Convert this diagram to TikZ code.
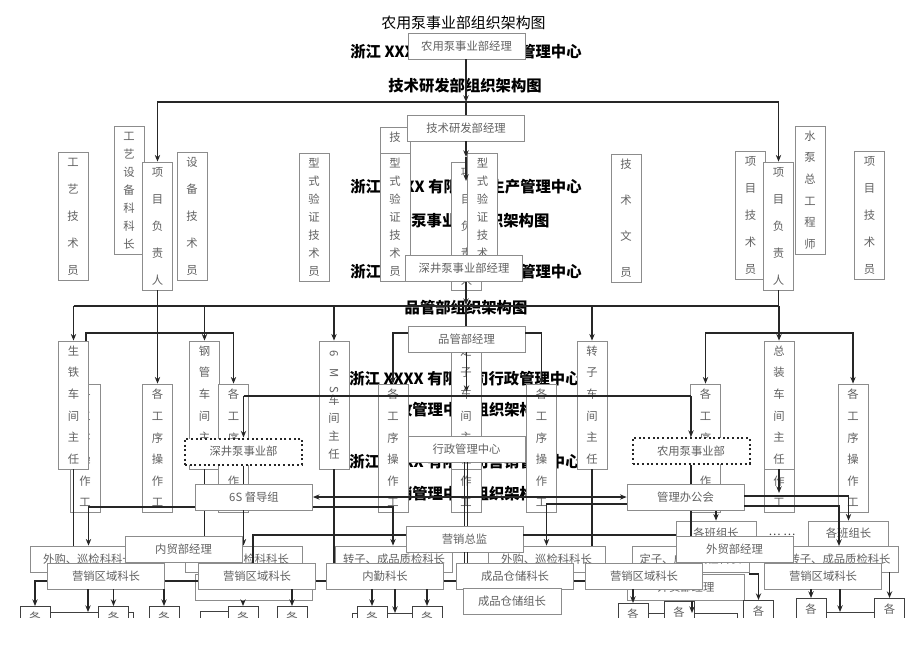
\documentclass[tikz,border=0pt]{standalone}
\usepackage{fontspec}
\usepackage{graphicx}
\setmainfont{Noto Sans CJK SC}
\usetikzlibrary{arrows.meta}
\begin{document}
\begin{tikzpicture}[x=0.75pt,y=-0.75pt,
  box/.style={draw=black!45,line width=0.6pt,fill=white,text=black!62,inner sep=0pt},
  hb/.style={box,minimum width=87.75pt,minimum height=19.5pt,font=\fontsize{8.5}{10}\selectfont},
  vb/.style={box,minimum width=22.5pt,minimum height=96pt,align=center},
  vfour/.style={vb,font=\fontsize{8.5}{27}\selectfont},
  vfive/.style={vb,font=\fontsize{8.5}{20.25}\selectfont},
  vsix/.style={vb,font=\fontsize{8.5}{16.2}\selectfont},
  vseven/.style={vb,font=\fontsize{8.5}{13.5}\selectfont},
  dotb/.style={draw=black!85,line width=1.5pt,dotted,fill=white,text=black!62,minimum width=87.75pt,minimum height=19.5pt,inner sep=0pt,font=\fontsize{8.5}{10}\selectfont},
  ttl/.style={font=\fontsize{11.5}{13}\selectfont\bfseries,text=black,inner sep=0pt},
  ttlr/.style={font=\fontsize{11.2}{13}\selectfont,text=black,inner sep=0pt},
  sbox/.style={draw=black!75,line width=0.6pt,fill=white,text=black!62,minimum width=22.5pt,minimum height=0pt,inner xsep=0pt,inner ysep=4pt,anchor=north,font=\fontsize{8.5}{10}\selectfont},
  wbox/.style={draw=black!75,line width=0.6pt,fill=white,anchor=north west,minimum height=22pt,inner sep=0pt},
  ln/.style={draw=black!85,line width=0.85pt},
  ar/.style={ln,-{Stealth[length=5pt,width=4pt]}},
]
\fill[white] (0,0) rectangle (920,651);
\useasboundingbox (0,0) rectangle (920,651);
\begin{scope}
\clip (0,0) rectangle (920,617);
% ---------- titles ----------
\node[ttlr] (t0) at (463.5,23) {农用泵事业部组织架构图};
\node[ttl] (t1) at (466,52) {浙江 XXXX 有限公司生产管理中心};
\node[ttl] (t2) at (465,86) {技术研发部组织架构图};
\node[ttl] (t3) at (466,187) {浙江 XXXX 有限公司生产管理中心};
\node[ttl] (t4) at (465,221) {深井泵事业部组织架构图};
\node[ttl] (t5) at (466,272) {浙江 XXXX 有限公司生产管理中心};
\node[ttl] (t6) at (466,308) {品管部组织架构图};
\node[ttl] (t7) at (465,379) {浙江 XXXX 有限公司行政管理中心};
\node[ttl] (t8) at (466,410) {行政管理中心组织架构图};
\node[ttl] (t9) at (465,462) {浙江 XXXX 有限公司营销管理中心};
\node[ttl] (t10) at (466,494) {营销管理中心组织架构图};

% ---------- technical department ----------
\node[vfive] (gyjs) at (73,216.5) {工\\艺\\技\\术\\员};
\node[vseven] (gysb) at (129,190.5) {工\\艺\\设\\备\\科\\科\\长};
\node[vfive] (xmL) at (157.5,226) {项\\目\\负\\责\\人};
\node[vfive] (sbjs) at (192,216.5) {设\\备\\技\\术\\员};
\node[vseven] (xsL) at (314,217) {型\\式\\验\\证\\技\\术\\员};
\node[vfour] (jswC) at (395,191) {技\\术\\文\\员};
\node[vseven] (xsC) at (395,217) {型\\式\\验\\证\\技\\术\\员};
\node[vfive] (xmC) at (466.5,226) {项\\目\\负\\责\\人};
\node[vseven] (xsCc) at (482.5,217) {型\\式\\验\\证\\技\\术\\员};
\node[vfour] (jsw) at (626,218) {技\\术\\文\\员};
\node[vfive] (xjRa) at (750.5,215.5) {项\\目\\技\\术\\员};
\node[vfive] (xmR) at (778.5,226) {项\\目\\负\\责\\人};
\node[vsix] (sbzg) at (810,190) {水\\泵\\总\\工\\程\\师};
\node[vfive] (xjRb) at (869.5,215.5) {项\\目\\技\\术\\员};
\node[hb] (nyj) at (466.5,46) {农用泵事业部经理};
\node[hb] (jsy) at (466,128) {技术研发部经理};

\coordinate (jA) at (466,102);
\coordinate (jB) at (466,157);
\coordinate (jBb) at (466,181);
\draw[ar] (nyj.south -| jA) -- (jA);
\draw[ln] (jA) -- (jsy.north -| jA);
\draw[ar] (jA) -| (xmL.north);
\draw[ar] (jA) -| (xmR.north);
\draw[ar] (jsy.south -| jA) -- (jB);
\draw[ar] (jB) -- (jBb);

% ---------- production (deep-well pump) ----------
\node[hb] (sjj) at (464,268.5) {深井泵事业部经理};
\node[vsix] (gxLo) at (85,448) {各\\工\\序\\操\\作\\工};
\node[vsix] (st) at (73.5,405) {生\\铁\\车\\间\\主\\任};
\node[vsix] (gxLa) at (157.5,448) {各\\工\\序\\操\\作\\工};
\node[vsix] (gg) at (204.5,405) {钢\\管\\车\\间\\主\\任};
\node[vsix] (gxLb) at (233.5,448) {各\\工\\序\\操\\作\\工};
\node[vseven] (ms) at (334,405) {\rotatebox{-90}{6}\\\rotatebox{-90}{M}\\\rotatebox{-90}{S}\\车\\间\\主\\任};
\node[vsix] (gxCL) at (393,448) {各\\工\\序\\操\\作\\工};
\node[vsix] (gxC) at (466,448) {各\\工\\序\\操\\作\\工};
\node[vsix] (dz) at (466,405) {定\\子\\车\\间\\主\\任};
\node[vsix] (gxCR) at (541.5,448) {各\\工\\序\\操\\作\\工};
\node[vsix] (zz) at (592,405) {转\\子\\车\\间\\主\\任};
\node[vsix] (gxRa) at (705.5,448) {各\\工\\序\\操\\作\\工};
\node[vsix] (gxRc) at (779,448) {各\\工\\序\\操\\作\\工};
\node[vsix] (zhz) at (779,405) {总\\装\\车\\间\\主\\任};
\node[vsix] (gxRb) at (853,448) {各\\工\\序\\操\\作\\工};

\coordinate (h306) at (0,306);
\coordinate (h333) at (0,333);
\coordinate (jC) at (466,305);
\draw[ln] (xmL.south) -- (xmL.south |- h306);
\draw[ln] (xmR.south) -- (xmR.south |- h306);
\draw[ln] (st.north |- h306) -- (zhz.north |- h306);
\draw[ar] (st.north |- h306) -- (st.north);
\draw[ar] (gxLa.north |- h306) -- (gxLa.north);
\draw[ar] (gg.north |- h306) -- (gg.north);
\draw[ar] (ms.north |- h306) -- (ms.north);
\draw[ar] (zz.north |- h306) -- (zz.north);
\draw[ar] (zhz.north |- h306) -- (zhz.north);
\coordinate (stk) at (86,341);
\draw[ar] (stk) -- (86,333) -| (gxLb.north);
\draw[ar] (zhz.north |- h333) -| (gxRa.north);
\draw[ar] (zhz.north |- h333) -| (gxRb.north);
\draw[ar] (sjj.south -| jC) -- (jC);
\draw[ln] (st.south) -- (73.5,546);
\draw[ln] (gg.south) -- (204.5,536);
\draw[ln] (ms.south) -- (334,563);
\draw[ln] (zz.south) -- (592,546);
\draw[ar] (zhz.south) -- (779,493);

% ---------- quality department ----------
\node[hb] (pgj) at (466.5,339) {品管部经理};
\node[hb] (wgL) at (88.5,559) {外购、巡检科科长};
\node[hb] (wgLb) at (243.5,559) {外购、巡检科科长};
\node[hb] (zzC) at (394,559) {转子、成品质检科长};
\node[hb] (wgC) at (546.5,559) {外购、巡检科科长};
\node[hb] (dzR) at (690.5,559) {定子、成品质检科长};
\node[hb,minimum width=60pt,minimum height=18.75pt] (bzL) at (716,533.5) {各班组长};
\node[hb,minimum width=60pt,minimum height=18.75pt] (bzR) at (848.5,533.5) {各班组长};
\node[hb] (zzR) at (839.5,559) {转子、成品质检科长};
\node[text=black!75,font=\fontsize{8.5}{10}\selectfont,inner sep=0pt] (dots) at (782,535) {… …};
\draw[ln] (jC) -- (pgj.north -| jC);
\draw[ar] (pgj.west |- h333) -| (gxCL.north);
\draw[ar] (pgj.east |- h333) -| (gxCR.north);
\draw[ar] (pgj.south) -- (466.5,392);

% ---------- administration ----------
\node[hb] (xz) at (466.5,449.5) {行政管理中心};
\node[dotb] (sjb) at (243.5,451.5) {深井泵事业部};
\node[dotb] (nyb) at (691,451) {农用泵事业部};
\node[hb] (sixs) at (254,497) {6S 督导组};
\node[hb] (glb) at (685.5,497.5) {管理办公会};
\coordinate (h396) at (0,396);
\coordinate (jD) at (466.5,497);
\draw[ln] (sjb.north |- h396) -- (nyb.north |- h396);
\draw[ar] (sjb.north |- h396) -- (sjb.north);
\draw[ar] (nyb.north |- h396) -- (nyb.north);
\draw[ar] (jD) -- (sixs.east);
\draw[ar] (jD) -- (glb.west |- jD);
\draw[ln] (464.5,462) -- (464.5,526);
\draw[ln] (467.5,462) -- (467.5,526);
\draw[ln] (sjb.south) -- (sjb.south |- sixs.north);
\draw[ar] (sjb.south |- sixs.south) -- (sjb.south |- wgLb.north);
\draw[ar] (sixs.west |- 0,507) -| (wgL.north);
\draw[ar] (sixs.east |- 0,507) -| (zzC.north -| gxCL.south);
\draw[ln] (nyb.south) -- (nyb.south |- glb.north);
\draw[ln] (nyb.south |- glb.south) -- (691,536);
\draw[ar] (bzL.north |- glb.south) -- (bzL.north);
\draw[ar] (glb.east |- 0,496) -| (bzR.north);
\draw[ar] (glb.east |- 0,506) -| (839,546);
\draw[ar] (glb.west |- 0,504) -| (wgC.north);

% ---------- marketing ----------
\node[hb] (yxz) at (464.5,539) {营销总监};
\node[hb] (nm) at (183.5,549) {内贸部经理};
\node[hb] (wm) at (734.5,549) {外贸部经理};
\node[hb] (hL) at (254,587.5) {};
\node[hb] (hR) at (686,587.5) {外贸部经理};
\node[hb] (yqa) at (106,576) {营销区域科长};
\node[hb] (yqb) at (257,576) {营销区域科长};
\node[hb] (nq) at (385,576) {内勤科长};
\node[hb] (cc) at (515,576) {成品仓储科长};
\node[hb] (yqc) at (644,576) {营销区域科长};
\node[hb] (yqd) at (823,576) {营销区域科长};
\node[hb,minimum width=73.5pt] (cz) at (512,601.5) {成品仓储组长};

\node[wbox,minimum width=65pt] (wa) at (46,612) {};
\node[wbox,minimum width=43pt] (wb) at (200,611) {};
\node[wbox,minimum width=66pt] (wc) at (352,613) {};
\node[wbox,minimum width=67pt] (wd) at (648,613) {};
\node[wbox,minimum width=63pt] (we) at (796,612) {};
\node[sbox] (ga) at (35,606) {各};
\node[sbox] (gb) at (113.5,606) {各};
\node[sbox] (gc) at (164,606) {各};
\node[sbox] (gd) at (243,606) {各};
\node[sbox] (ge) at (292,606) {各};
\node[sbox] (gf) at (372,606) {各};
\node[sbox] (gh) at (427,606) {各};
\node[sbox] (gi) at (633,603) {各};
\node[sbox] (gj) at (679,601) {各};
\node[sbox] (gk) at (758.5,600) {各};
\node[sbox] (gl) at (811,598) {各};
\node[sbox] (gm) at (889.5,598) {各};

\coordinate (h535) at (0,535);
\coordinate (h581) at (0,581);
\draw[ln] (yxz.west |- h535) -- (253,535) -- (253,563);
\draw[ln] (yxz.east |- h535) -- (wm.west |- h535);
\draw[ln] (464.5,552) -- (464.5,563);
\draw[ln] (467.5,552) -- (467.5,563);
\draw[ar] (yqa.west |- h581) -| (ga.north);
\draw[ar] (88,589) -- (wa.north west -| 88,0);
\draw[ar] (yqa.south -| gb.north) -- (gb.north);
\draw[ar] (yqa.south -| gc.north) -- (gc.north);
\draw[ln] (yqa.east |- h581) -- (yqb.west |- h581);
\draw[ar] (hL.south -| gd.north) -- (gd.north);
\draw[ar] (yqb.south -| ge.north) -- (ge.north);
\draw[ln] (yqb.east |- h581) -- (nq.west |- h581);
\draw[ar] (nq.south -| gf.north) -- (gf.north);
\draw[ar] (395,589) -- (395,613);
\draw[ar] (nq.south -| gh.north) -- (gh.north);
\draw[ln] (nq.east |- h581) -- (cc.west |- h581);
\draw[ln] (cc.east |- h581) -- (yqc.west |- h581);
\draw[ar] (yqc.south -| gi.north) -- (gi.north);
\draw[ar] (hR.south -| 692,0) -- (692,613);
\draw[ar] (dzR.east |- 0,574) -| (gk.north);
\draw[ar] (yqd.south -| gl.north) -- (gl.north);
\draw[ar] (840,589) -- (840,612);
\draw[ar] (zzR.south -| gm.north) -- (gm.north);
\end{scope}
\end{tikzpicture}
\end{document}
